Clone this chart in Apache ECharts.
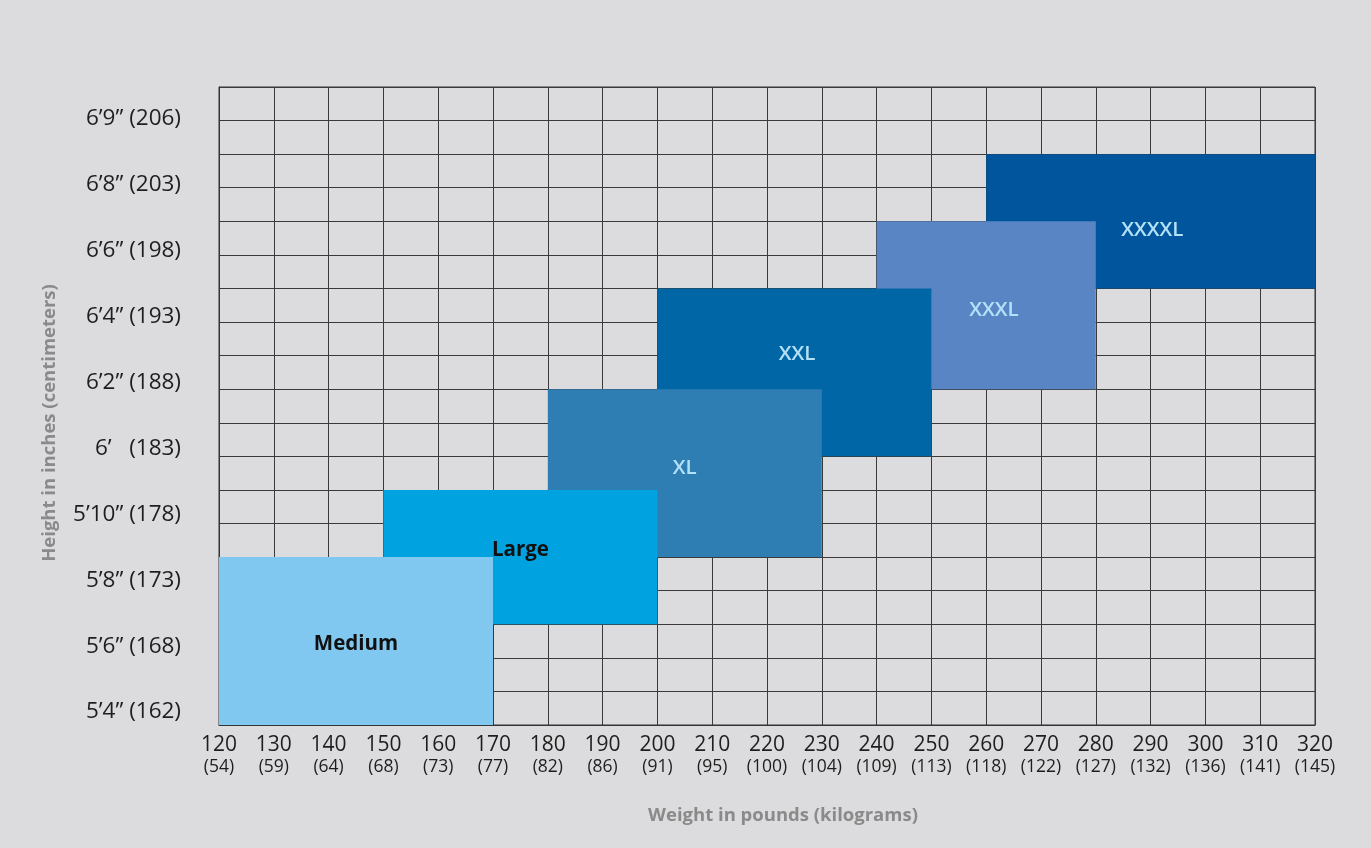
<!DOCTYPE html>
<html>
<head>
<meta charset="utf-8">
<script src="https://cdn.jsdelivr.net/npm/echarts@6/dist/echarts.min.js"></script>
<style>
html,body{margin:0;padding:0;background:#dcdcde;}
#chart{width:1371px;height:848px;}
</style>
</head>
<body>
<div id="chart"></div>
<script>
// ---- data ----
const lbsTicks = [120,130,140,150,160,170,180,190,200,210,220,230,240,250,260,270,280,290,300,310,320];
const kgTicks  = [54,59,64,68,73,77,82,86,91,95,100,104,109,113,118,122,127,132,136,141,145];
const heightLabels = ['5’4” (162)','5’6” (168)','5’8” (173)','5’10” (178)','6’   (183)','6’2” (188)','6’4” (193)','6’6” (198)','6’8” (203)','6’9” (206)'];
// size boxes: weight range (lbs) and height range (grid rows from bottom)
const sizeNames  = ['Medium','Large','XL','XXL','XXXL','XXXXL'];
const weightFrom = [120,150,180,200,240,260];
const weightTo   = [170,200,230,250,280,320];
const rowFrom    = [0,3,5,8,10,13];
const rowTo      = [5,7,10,13,15,17];
const labelLbs   = [145,175,205,225.5,261.4,290.3];
const labelRow   = [2.41,5.21,7.65,11.05,12.36,14.74];
const sizeColors = ['#80c8f0','#00a3e0','#2e7eb4','#0066a6','#5a85c4','#00559c'];
const textColors = ['#111111','#111111','#b3e1f7','#b3e1f7','#b3e1f7','#b3e1f7'];

const FONT = '"Open Sans", Lato, sans-serif';

// draw order: largest size first, Medium on top
const boxData = [];
for (let i = sizeNames.length - 1; i >= 0; i--) {
  boxData.push([weightFrom[i], weightTo[i], rowFrom[i], rowTo[i], i]);
}
const labelData = sizeNames.map((n,i)=>[labelLbs[i], labelRow[i], i]);

const chart = echarts.init(document.getElementById('chart'));
chart.setOption({
  backgroundColor: '#dcdcde',
  animation: false,
  grid: {left: 219, right: 56, top: 87, bottom: 123, show: true, borderColor: '#333', borderWidth: 1, backgroundColor: 'transparent'},
  xAxis: {
    type: 'value', min: 120, max: 320, interval: 10,
    axisLine: {show: true, lineStyle: {color: '#333'}},
    axisTick: {show: false},
    splitLine: {show: true, lineStyle: {color: '#3a3a3a', width: 1}},
    axisLabel: {
      margin: 9,
      formatter: function(v){ const i = lbsTicks.indexOf(v); return '{a|' + v + '}\n{b|(' + kgTicks[i] + ')}'; },
      rich: {
        a: {fontFamily: FONT, fontSize: 21, color: '#1e1e1e', lineHeight: 23},
        b: {fontFamily: FONT, fontSize: 17.5, color: '#1e1e1e', lineHeight: 21}
      }
    },
    name: 'Weight in pounds (kilograms)',
    nameLocation: 'middle',
    nameGap: 81,
    nameTextStyle: {fontFamily: FONT, fontSize: 18.5, fontWeight: 'bold', color: '#8a8a8a', padding: [0,0,0,32]}
  },
  yAxis: [{
    type: 'value', min: 0, max: 19, interval: 1,
    axisLine: {show: true, lineStyle: {color: '#333'}},
    axisTick: {show: false},
    axisLabel: {show: false},
    splitLine: {show: true, lineStyle: {color: '#3a3a3a', width: 1}},
    name: 'Height in inches (centimeters)',
    nameLocation: 'middle',
    nameGap: 160,
    nameRotate: 90,
    nameTextStyle: {fontFamily: FONT, fontSize: 18.5, fontWeight: 'bold', color: '#8a8a8a', padding: [0,34,0,0]}
  },{
    type: 'value', position: 'left', min: -0.197, max: 9.486,
    axisLine: {show: false}, axisTick: {show: false}, splitLine: {show: false},
    axisLabel: {
      customValues: [0,1,2,3,4,5,6,7,8,9],
      margin: 38,
      fontFamily: FONT, fontSize: 22.5, color: '#1e1e1e',
      formatter: function(v){ return heightLabels[Math.round(v)]; }
    }
  }],
  series: [{
    type: 'custom',
    coordinateSystem: 'cartesian2d',
    xAxisIndex: 0, yAxisIndex: 0,
    data: boxData,
    renderItem: function(params, api){
      const p0 = api.coord([api.value(0), api.value(2)]);
      const p1 = api.coord([api.value(1), api.value(3)]);
      const idx = api.value(4);
      return {type: 'rect', shape: {x: p0[0], y: p1[1], width: p1[0]-p0[0], height: p0[1]-p1[1]}, style: {fill: sizeColors[idx]}};
    },
    z: 2
  },{
    type: 'custom',
    coordinateSystem: 'cartesian2d',
    xAxisIndex: 0, yAxisIndex: 0,
    data: labelData,
    renderItem: function(params, api){
      const p = api.coord([api.value(0), api.value(1)]);
      const idx = api.value(2);
      const weight = idx < 2 ? 'bold' : '600';
      return {type: 'text', x: p[0], y: p[1], style: {
        text: sizeNames[idx], fill: textColors[idx], font: weight + ' 20.5px ' + FONT,
        textAlign: 'center', textVerticalAlign: 'middle'
      }};
    },
    z: 3
  }]
});
</script>
</body>
</html>
